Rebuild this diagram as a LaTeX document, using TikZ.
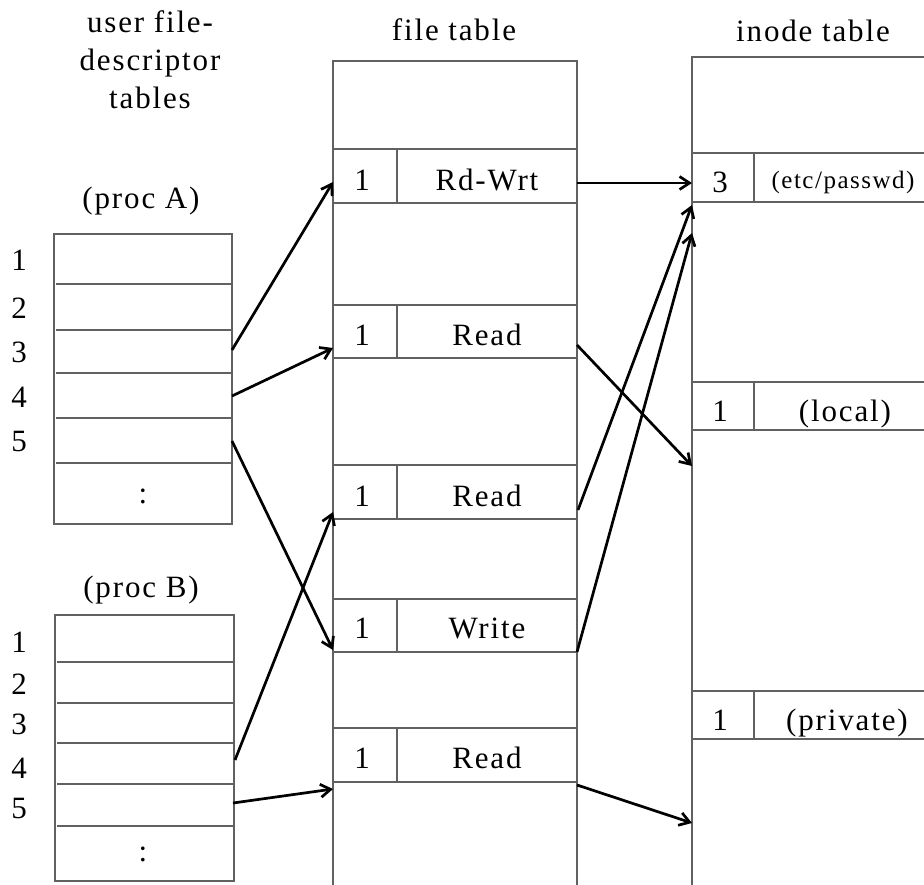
\documentclass[tikz,border=0pt]{standalone}
\usepackage{fontspec}
\setmainfont{Liberation Serif}[LetterSpace=6]
\usetikzlibrary{arrows.meta}
\begin{document}
\begin{tikzpicture}[x=1pt,y=-1pt,
  tbl/.style={draw=black!62, line width=1.7pt},
  arr/.style={-{Straight Barb[length=10pt,width=13pt]}, line width=2.7pt},
  lbl/.style={font=\fontsize{31}{36}\selectfont, anchor=base, inner sep=0pt},
  sml/.style={font=\fontsize{25}{30}\selectfont, anchor=base, inner sep=0pt}]
\useasboundingbox (0,0) rectangle (924,884);
\clip (0,0) rectangle (924,884);

% headings
\node[lbl] (h1) at (150,32) {user file-};
\node[lbl] (h2) at (150,70) {descriptor};
\node[lbl] (h3) at (150,108) {tables};
\node[lbl] (hf) at (454,40) {file table};
\node[lbl] (hi) at (813,41) {inode table};
\node[lbl] (pa) at (141,208) {(proc A)};
\node[lbl] (pb) at (141,597) {(proc B)};

% proc A table
\draw[tbl] (54,234) rectangle (232,524);
\foreach \y in {284,330,373,418,463} \draw[tbl] (56,\y) -- (232,\y);
\foreach \n/\y in {1/270,2/318,3/362,4/407,5/451}
  \node[lbl] (pa\n) at (19,\y) {\n};
\node[lbl] (pad) at (143,503) {:};

% proc B table
\draw[tbl] (55,615) rectangle (234,881);
\foreach \y in {662,703,743,784,826} \draw[tbl] (57,\y) -- (234,\y);
\foreach \n/\y in {1/652,2/694,3/734,4/778,5/818}
  \node[lbl] (pb\n) at (19,\y) {\n};
\node[lbl] (pbd) at (143,861) {:};

% file table
\draw[tbl] (333,940) -- (333,61) -- (577,61) -- (577,940);
\foreach \t/\b in {149/203,305/358,465/519,599/652,728/782}{
  \draw[tbl] (333,\t) -- (577,\t);
  \draw[tbl] (333,\b) -- (577,\b);
  \draw[tbl] (397,\t) -- (397,\b);
}
\node[lbl] (f1n) at (362,190) {1};
\node[lbl] (f1t) at (487,190) {Rd-Wrt};
\node[lbl] (f2n) at (362,345) {1};
\node[lbl] (f2t) at (487,345) {Read};
\node[lbl] (f3n) at (362,506) {1};
\node[lbl] (f3t) at (487,506) {Read};
\node[lbl] (f4n) at (362,638) {1};
\node[lbl] (f4t) at (487,638) {Write};
\node[lbl] (f5n) at (362,768) {1};
\node[lbl] (f5t) at (487,768) {Read};

% inode table
\draw[tbl] (692,940) -- (692,57) -- (940,57);
\foreach \t/\b in {153/202,382/430,691/739}{
  \draw[tbl] (692,\t) -- (940,\t);
  \draw[tbl] (692,\b) -- (940,\b);
  \draw[tbl] (754,\t) -- (754,\b);
}
\node[lbl] (i1n) at (720,192) {3};
\node[sml] (i1t) at (843,188) {(etc/passwd)};
\node[lbl] (i2n) at (720,421) {1};
\node[lbl] (i2t) at (845,421) {(local)};
\node[lbl] (i3n) at (720,730) {1};
\node[lbl] (i3t) at (847,730) {(private)};

% connector endpoints
\coordinate (a3) at (232,350);
\coordinate (a4) at (232,396);
\coordinate (a5) at (232,441);
\coordinate (b4) at (235,760);
\coordinate (b5) at (233,803);
\coordinate (fe1) at (333,182);
\coordinate (fe2) at (333,348);
\coordinate (fe3) at (333,512);
\coordinate (fe4) at (333,650);
\coordinate (fe5) at (333,789);
\coordinate (fo1) at (577,183);
\coordinate (fo2) at (577,345);
\coordinate (fo3) at (578,510);
\coordinate (fo4) at (577,652);
\coordinate (fo5) at (577,785);
\coordinate (ie1) at (692,183);
\coordinate (ie2) at (692,466);
\coordinate (ie3) at (692,205);
\coordinate (ie4) at (692,233);
\coordinate (ie5) at (692,823);

% connectors
\draw[arr] (a3) -- (fe1);
\draw[arr] (a4) -- (fe2);
\draw[arr] (a5) -- (fe4);
\draw[arr] (b4) -- (fe3);
\draw[arr] (b5) -- (fe5);
\draw[arr] (fo1) -- (ie1);
\draw[arr] (fo2) -- (ie2);
\draw[arr] (fo3) -- (ie3);
\draw[arr] (fo4) -- (ie4);
\draw[arr] (fo5) -- (ie5);
\end{tikzpicture}
\end{document}
